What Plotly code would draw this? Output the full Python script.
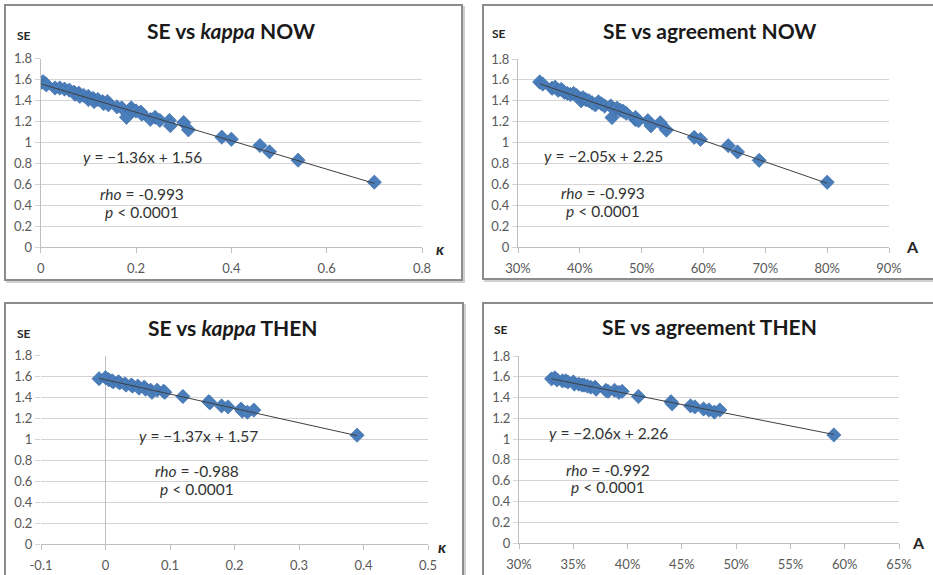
import plotly.graph_objects as go

# ---------------- data ----------------
kappa_now = [0.0, 0.005, 0.01, 0.012, 0.03, 0.04, 0.05, 0.06, 0.07, 0.072, 0.08, 0.082, 0.09,
             0.10, 0.10, 0.11, 0.112, 0.12, 0.13, 0.132, 0.14, 0.142, 0.16, 0.17, 0.18, 0.19,
             0.192, 0.20, 0.21, 0.212, 0.23, 0.24, 0.25, 0.27, 0.272, 0.30, 0.31, 0.38, 0.40,
             0.46, 0.48, 0.54, 0.70]
se_kappa_now = [1.57, 1.58, 1.56, 1.55, 1.52, 1.52, 1.51, 1.50, 1.48, 1.46, 1.47, 1.44, 1.45,
                1.44, 1.41, 1.42, 1.39, 1.41, 1.39, 1.37, 1.39, 1.36, 1.34, 1.33, 1.24, 1.33,
                1.30, 1.30, 1.29, 1.27, 1.22, 1.24, 1.21, 1.21, 1.16, 1.19, 1.12, 1.05, 1.03,
                0.97, 0.91, 0.83, 0.62]

agree_now = [0.335, 0.34, 0.355, 0.36, 0.365, 0.37, 0.375, 0.38, 0.385, 0.39, 0.395, 0.40,
             0.402, 0.405, 0.41, 0.415, 0.42, 0.425, 0.43, 0.435, 0.44, 0.45, 0.452, 0.455,
             0.46, 0.465, 0.47, 0.475, 0.49, 0.49, 0.495, 0.51, 0.515, 0.53, 0.54, 0.585,
             0.595, 0.64, 0.655, 0.69, 0.80]
se_agree_now = [1.58, 1.56, 1.52, 1.53, 1.50, 1.51, 1.48, 1.47, 1.46, 1.47, 1.45, 1.42,
                1.40, 1.43, 1.41, 1.40, 1.38, 1.36, 1.39, 1.37, 1.35, 1.35, 1.24, 1.32,
                1.33, 1.31, 1.30, 1.28, 1.22, 1.24, 1.21, 1.21, 1.16, 1.19, 1.12, 1.05,
                1.03, 0.97, 0.91, 0.83, 0.62]

kappa_then = [-0.01, 0.0, 0.005, 0.01, 0.012, 0.02, 0.022, 0.03, 0.032, 0.04, 0.042, 0.05,
              0.052, 0.06, 0.062, 0.07, 0.072, 0.08, 0.09, 0.092, 0.12, 0.16, 0.162, 0.18,
              0.19, 0.21, 0.212, 0.22, 0.23, 0.39]
se_kappa_then = [1.58, 1.59, 1.57, 1.56, 1.55, 1.55, 1.54, 1.53, 1.52, 1.52, 1.51, 1.51,
                 1.49, 1.50, 1.48, 1.47, 1.45, 1.47, 1.46, 1.45, 1.41, 1.36, 1.35, 1.32,
                 1.31, 1.29, 1.27, 1.26, 1.28, 1.04]

agree_then = [0.330, 0.333, 0.335, 0.340, 0.343, 0.345, 0.350, 0.351, 0.355, 0.358, 0.360,
              0.363, 0.366, 0.370, 0.371, 0.380, 0.382, 0.388, 0.392, 0.395, 0.410, 0.440,
              0.441, 0.458, 0.462, 0.470, 0.475, 0.480, 0.485, 0.590]
se_agree_then = [1.58, 1.59, 1.57, 1.56, 1.56, 1.55, 1.55, 1.53, 1.53, 1.52, 1.52,
                 1.51, 1.50, 1.50, 1.48, 1.47, 1.46, 1.47, 1.45, 1.46, 1.41, 1.36,
                 1.34, 1.32, 1.31, 1.29, 1.28, 1.26, 1.28, 1.04]

# regression fits shown on the chart (slope, intercept)
fit_slopes = [-1.36, -2.05, -1.37, -2.06]
fit_intercepts = [1.56, 2.25, 1.57, 2.26]
rho_values = ["-0.993", "-0.993", "-0.988", "-0.992"]

titles = ["SE vs <i>kappa</i> NOW", "SE vs agreement NOW",
          "SE vs <i>kappa</i> THEN", "SE vs agreement THEN"]
x_axis_names = ["<i>κ</i>", "A", "<i>κ</i>", "A"]

y_tickvals = [0, 0.2, 0.4, 0.6, 0.8, 1.0, 1.2, 1.4, 1.6, 1.8]
y_ticktext = ["0", "0.2", "0.4", "0.6", "0.8", "1", "1.2", "1.4", "1.6", "1.8"]

x1_tickvals = [0, 0.2, 0.4, 0.6, 0.8]
x1_ticktext = ["0", "0.2", "0.4", "0.6", "0.8"]
x2_tickvals = [0.3, 0.4, 0.5, 0.6, 0.7, 0.8, 0.9]
x2_ticktext = ["30%", "40%", "50%", "60%", "70%", "80%", "90%"]
x3_tickvals = [-0.1, 0, 0.1, 0.2, 0.3, 0.4, 0.5]
x3_ticktext = ["-0.1", "0", "0.1", "0.2", "0.3", "0.4", "0.5"]
x4_tickvals = [0.30, 0.35, 0.40, 0.45, 0.50, 0.55, 0.60, 0.65]
x4_ticktext = ["30%", "35%", "40%", "45%", "50%", "55%", "60%", "65%"]

# ---------------- layout helpers ----------------
W, H = 933, 575
def px(x):
    return x / W
def py(y):
    return 1 - y / H

FONT = "Lato, 'Open Sans', sans-serif"
MARKER = "#4A7EBB"
GRID = "#D4D4D4"
TICKFONT = dict(family=FONT, size=13, color="#595959")

panels = [
    dict(x=kappa_now, y=se_kappa_now, xd=[40.7, 422], yd=[247, 58.7], xr=[0, 0.8],
         tv=x1_tickvals, tt=x1_ticktext, zl=False, leftline=True,
         box=[5, 5, 462, 280], title=(231, 30), se=(24, 36), xn=(440, 248),
         eq=(142, 157), rho=(142, 194), p=(142, 212)),
    dict(x=agree_now, y=se_agree_now, xd=[518, 889], yd=[247, 59], xr=[0.3, 0.9],
         tv=x2_tickvals, tt=x2_ticktext, zl=False, leftline=True,
         box=[483, 5, 940, 279], title=(709, 30), se=(499, 33), xn=(912, 246),
         eq=(603, 156), rho=(603, 193), p=(603, 211)),
    dict(x=kappa_then, y=se_kappa_then, xd=[41, 428], yd=[544, 355.7], xr=[-0.1, 0.5],
         tv=x3_tickvals, tt=x3_ticktext, zl=True, leftline=False,
         box=[5, 303, 463, 590], title=(232, 327), se=(24, 333), xn=(442, 546),
         eq=(198, 436), rho=(197, 471), p=(197, 489)),
    dict(x=agree_then, y=se_agree_then, xd=[519, 899], yd=[543, 356], xr=[0.3, 0.65],
         tv=x4_tickvals, tt=x4_ticktext, zl=False, leftline=True,
         box=[483, 303, 940, 590], title=(709, 326), se=(501, 329), xn=(918, 542),
         eq=(608, 433), rho=(608, 470), p=(608, 487)),
]

fig = go.Figure()
annotations = []
shapes = []

for i, p in enumerate(panels):
    n = "" if i == 0 else str(i + 1)
    xa = "x" + n
    ya = "y" + n
    # scatter points
    fig.add_trace(go.Scatter(
        x=p["x"], y=p["y"], mode="markers", xaxis=xa, yaxis=ya,
        marker=dict(symbol="diamond", size=11, color=MARKER,
                    line=dict(width=0.6, color="#3A6AA8")),
        showlegend=False, hoverinfo="x+y"))
    # trend line from the fitted coefficients across the data range
    xmin, xmax = min(p["x"]), max(p["x"])
    fig.add_trace(go.Scatter(
        x=[xmin, xmax],
        y=[fit_intercepts[i] + fit_slopes[i] * xmin, fit_intercepts[i] + fit_slopes[i] * xmax],
        mode="lines", xaxis=xa, yaxis=ya,
        line=dict(color="#3F3F3F", width=1), showlegend=False, hoverinfo="skip"))

    xkey = "xaxis" + n
    ykey = "yaxis" + n
    fig.layout[xkey] = dict(
        domain=[px(p["xd"][0]), px(p["xd"][1])], range=p["xr"], anchor=ya,
        tickvals=p["tv"], ticktext=p["tt"], showgrid=False, automargin=False,
        zeroline=p["zl"], zerolinecolor="#BFBFBF", zerolinewidth=1,
        showline=True, linecolor="#BFBFBF", linewidth=1,
        ticks="outside", ticklen=5, tickcolor="#BFBFBF", tickfont=TICKFONT,
        ticklabelstandoff=4, fixedrange=True)
    fig.layout[ykey] = dict(
        domain=[py(p["yd"][0]), py(p["yd"][1])], range=[0, 1.8], anchor=xa,
        tickvals=y_tickvals, ticktext=y_ticktext, automargin=False,
        showgrid=True, gridcolor=GRID, gridwidth=1, zeroline=False,
        showline=p["leftline"], linecolor="#BFBFBF", linewidth=1,
        ticks="outside", ticklen=5, tickcolor=GRID, tickfont=TICKFONT,
        fixedrange=True)

    # panel border with a faint shadow
    b = p["box"]
    shapes.append(dict(type="rect", xref="paper", yref="paper",
                       x0=px(b[0] + 2), x1=px(b[2] + 2), y0=py(b[3] + 2), y1=py(b[1] + 2),
                       line=dict(color="#D0D0D0", width=2), fillcolor="rgba(0,0,0,0)",
                       layer="below"))
    shapes.append(dict(type="rect", xref="paper", yref="paper",
                       x0=px(b[0]), x1=px(b[2]), y0=py(b[3]), y1=py(b[1]),
                       line=dict(color="#8C8C8C", width=2), fillcolor="white",
                       layer="below"))

    def ann(text, pos, size, color="#262626", xanchor="center"):
        annotations.append(dict(text=text, xref="paper", yref="paper",
                                x=px(pos[0]), y=py(pos[1]), xanchor=xanchor, yanchor="middle",
                                showarrow=False, font=dict(family=FONT, size=size, color=color)))

    ann("<b>" + titles[i] + "</b>", p["title"], 21, "#1A1A1A")
    ann("<b>SE</b>", p["se"], 12, "#262626")
    ann("<b>" + x_axis_names[i] + "</b>", p["xn"], 16, "#262626")
    ann("<i>y</i> = \u2212%.2fx + %.2f" % (abs(fit_slopes[i]), fit_intercepts[i]), p["eq"], 15.5, "#333333")
    ann("<i>rho</i> = " + rho_values[i], p["rho"], 15.5, "#333333")
    ann("<i>p</i> < 0.0001", p["p"], 15.5, "#333333")

fig.update_layout(
    width=W, height=H, margin=dict(l=0, r=0, t=0, b=0),
    paper_bgcolor="white", plot_bgcolor="rgba(0,0,0,0)",
    annotations=annotations, shapes=shapes,
    font=dict(family=FONT),
)

fig.write_html("out.html", config={"displayModeBar": False})
